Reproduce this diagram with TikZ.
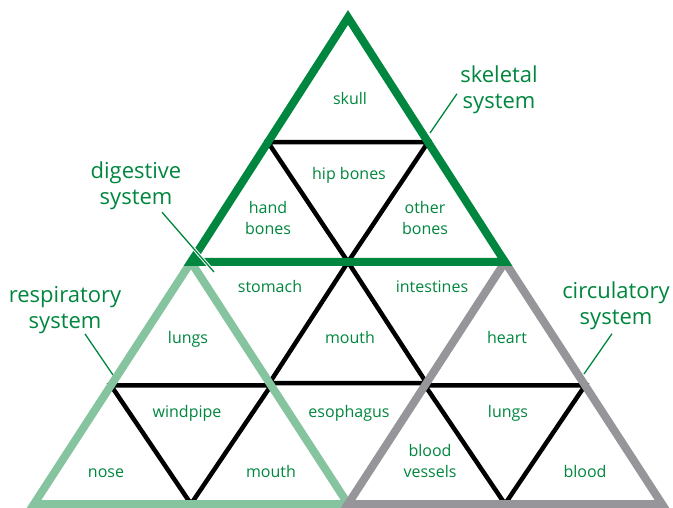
\documentclass[tikz,border=0pt]{standalone}
\usepackage{fontspec}
\setmainfont{Open Sans}
\usetikzlibrary{calc,positioning}
\definecolor{dkgreen}{RGB}{0,134,62}
\definecolor{ltgreen}{RGB}{133,196,158}
\definecolor{tgray}{RGB}{150,150,154}

\begin{document}
\begin{tikzpicture}[x=1pt, y=-1pt,
  inner/.style={draw=black, line width=4.5pt, line join=miter},
  outer/.style={line width=8pt, line join=miter},
  part/.style={text=dkgreen, inner sep=0pt, align=center, font=\fontsize{16}{21}\selectfont},
  sys/.style={text=dkgreen, inner sep=0pt, align=center, font=\fontsize{22}{26}\selectfont},
  callout/.style={draw=white, double=dkgreen, double distance=1.3pt, line width=1pt}
]
\useasboundingbox (0,0) rectangle (673,508);

% corners of the grid
\coordinate (T) at (348,17.5);
\coordinate (L1) at (191,262);
\coordinate (R1) at (505,262);
\coordinate (L2) at (34,504);
\coordinate (M2) at (348,504);
\coordinate (R2) at (662,504);

% inner triangles
\draw[inner] ($(T)!0.51!(L1)$) -- ($(T)!0.51!(R1)$) -- ($(L1)!0.5!(R1)$) -- cycle;
\draw[inner] ($(L1)!0.5!(R1)$) -- ($(R1)!0.5!(M2)$) -- ($(L1)!0.5!(M2)$) -- cycle;
\draw[inner] ($(L1)!0.51!(L2)$) -- ($(L1)!0.51!(M2)$) -- ($(L2)!0.5!(M2)$) -- cycle;
\draw[inner] ($(R1)!0.51!(M2)$) -- ($(R1)!0.51!(R2)$) -- ($(M2)!0.5!(R2)$) -- cycle;

% the three systems
\draw[outer, draw=ltgreen] (L1) -- (M2) -- (L2) -- cycle;
\draw[outer, draw=tgray] (R1) -- (R2) -- (M2) -- cycle;
\draw[outer, draw=dkgreen] (T) -- (R1) -- (L1) -- cycle;

% parts
\node[part, anchor=base] (skull) at (350,105) {skull};
\node[part, anchor=base] (hip) at (349,180) {hip bones};
\node[part] (hand) at (268,218) {hand\\bones};
\node[part] (other) at (425,218) {other\\bones};
\node[part, anchor=base] (stomach) at (270,293) {stomach};
\node[part, anchor=base] (intest) at (432,293) {intestines};
\node[part, anchor=base] (mouthc) at (350,343) {mouth};
\node[part, anchor=base] (lungsl) at (188,343) {lungs};
\node[part, anchor=base] (heart) at (507,343) {heart};
\node[part, anchor=base] (windpipe) at (187,417) {windpipe};
\node[part, anchor=base] (esoph) at (349,417) {esophagus};
\node[part, anchor=base] (lungsr) at (508,417) {lungs};
\node[part, anchor=base] (nose) at (106,477) {nose};
\node[part, anchor=base] (mouthl) at (271,477) {mouth};
\node[part] (vessels) at (430,461) {blood\\vessels};
\node[part, anchor=base] (blood) at (585,477) {blood};

% system labels
\node[sys] (skel) at (499,89.5) {skeletal\\system};
\node[sys] (dig) at (136,185.5) {digestive\\system};
\node[sys] (resp) at (65,310) {respiratory\\system};
\node[sys] (circ) at (616,305.5) {circulatory\\system};

\coordinate (skelpt) at (430,133);
\coordinate (digpt) at (214,272);
\coordinate (resppt) at (113,375);
\coordinate (circpt) at (584,374);

\draw[callout] ([xshift=-42pt, yshift=20pt]skel.south) -- (skelpt);
\draw[callout] ([xshift=26pt, yshift=-2.5pt]dig.south) -- (digpt);
\draw[callout] ([xshift=20pt]resp.south) -- (resppt);
\draw[callout] ([xshift=-4pt, yshift=-4pt]circ.south) -- (circpt);
\end{tikzpicture}
\end{document}
